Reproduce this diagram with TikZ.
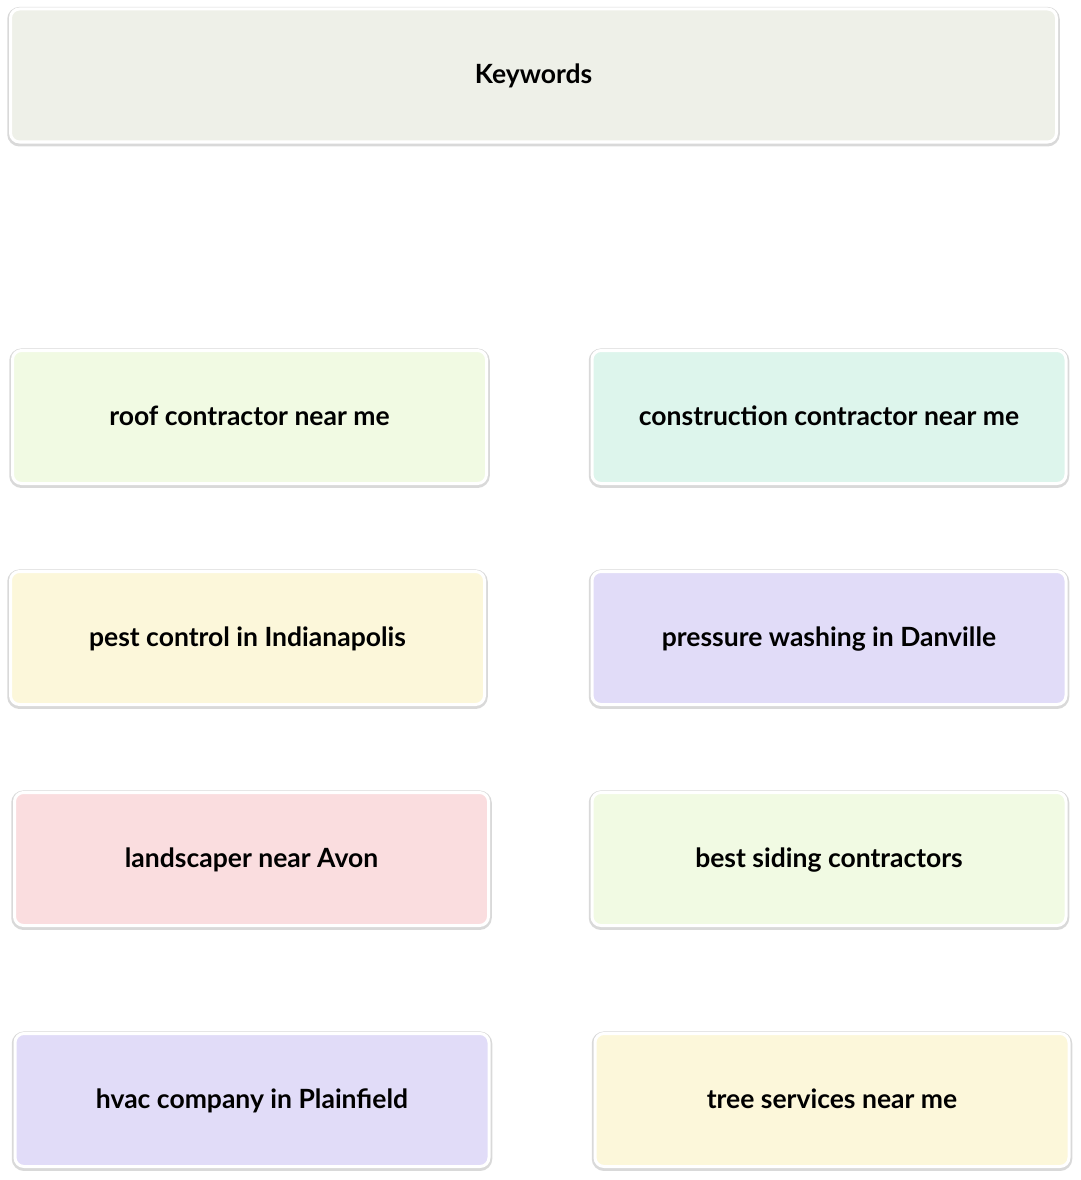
\documentclass[tikz,border=0pt]{standalone}
\usepackage{fontspec}
\setmainfont{Lato}
\definecolor{kwgray}{HTML}{EEF0E8}
\definecolor{kwgreen}{HTML}{F1FAE3}
\definecolor{kwmint}{HTML}{DDF5EC}
\definecolor{kwyellow}{HTML}{FCF7DA}
\definecolor{kwlilac}{HTML}{E1DCF8}
\definecolor{kwpink}{HTML}{FADDDF}
\tikzset{
  kwbox/.style={draw=white, line width=3pt, rounded corners=9pt,
    minimum width=474pt, minimum height=133pt, inner sep=0pt,
    text height=17pt, text depth=0pt,
    font=\fontsize{26.5}{32}\selectfont\bfseries,
    preaction={draw=black!15, line width=6.5pt, transform canvas={yshift=-1.2pt}}}
}
\begin{document}
\begin{tikzpicture}[x=1pt, y=-1pt]
\useasboundingbox (0,0) rectangle (1080,1180);
\coordinate (K) at (533.5,75.5);
\coordinate (A) at (249.5,417);
\coordinate (B) at (829,417);
\coordinate (C) at (247.5,638);
\coordinate (D) at (829,638);
\coordinate (E) at (251.5,859);
\coordinate (F) at (829,859);
\coordinate (G) at (252,1100);
\coordinate (H) at (832,1100);
\node [kwbox, fill=kwgray, minimum width=1046pt] (keywords) at (K) {Keywords};
\node [kwbox, fill=kwgreen] (roof) at (A) {roof contractor near me};
\node [kwbox, fill=kwmint] (construction) at (B) {construction contractor near me};
\node [kwbox, fill=kwyellow] (pest) at (C) {pest control in Indianapolis};
\node [kwbox, fill=kwlilac] (pressure) at (D) {pressure washing in Danville};
\node [kwbox, fill=kwpink] (landscaper) at (E) {landscaper near Avon};
\node [kwbox, fill=kwgreen] (siding) at (F) {best siding contractors};
\node [kwbox, fill=kwlilac] (hvac) at (G) {hvac company in Plainfield};
\node [kwbox, fill=kwyellow] (tree) at (H) {tree services near me};
\end{tikzpicture}
\end{document}
